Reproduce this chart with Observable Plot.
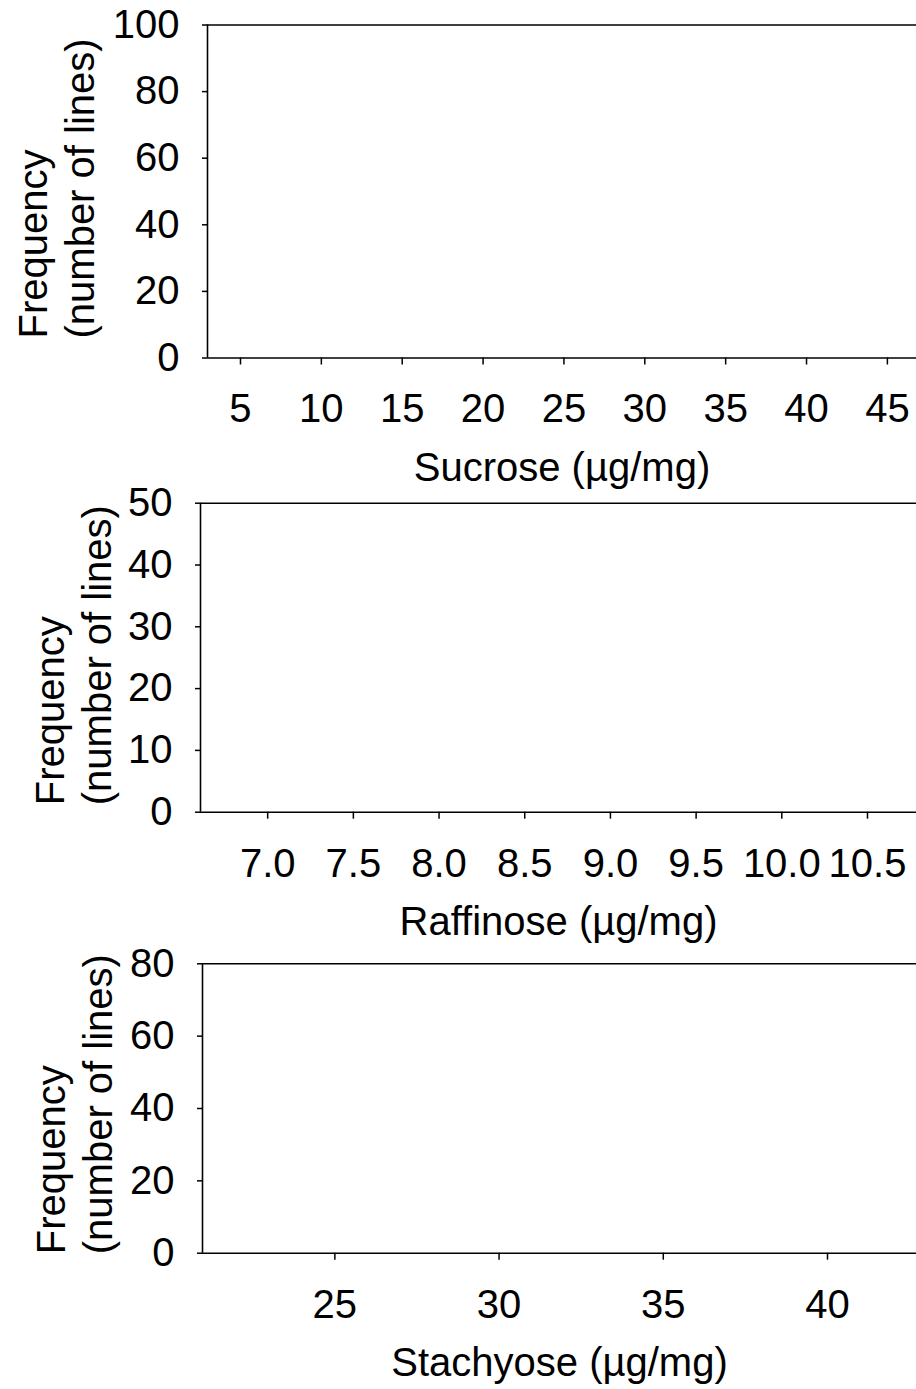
<!DOCTYPE html>
<html>
<head>
<meta charset="utf-8">
<script src="https://cdn.jsdelivr.net/npm/d3@7"></script>
<script src="https://cdn.jsdelivr.net/npm/@observablehq/plot@0.6"></script>
<style>
  body { margin: 0; background: #fff; }
  #chart svg { display: block; }
</style>
</head>
<body>
<div id="chart"></div>
<script>
// ---- Data (the reference figure shows empty histogram panels: no bars) ----
const sucroseValues = [];      // frequency bins shown: none
const raffinoseValues = [];
const stachyoseValues = [];

const sucroseXTicks = [5, 10, 15, 20, 25, 30, 35, 40, 45];
const raffinoseXTicks = [7.0, 7.5, 8.0, 8.5, 9.0, 9.5, 10.0, 10.5];
const stachyoseXTicks = [25, 30, 35, 40];

const sucroseYTicks = [0, 20, 40, 60, 80, 100];
const raffinoseYTicks = [0, 10, 20, 30, 40, 50];
const stachyoseYTicks = [0, 20, 40, 60, 80];

const xTitles = ["Sucrose (µg/mg)", "Raffinose (µg/mg)", "Stachyose (µg/mg)"];
const yTitle = "Frequency\n(number of lines)";

// ---- Layout per panel ----
const W = 916;
const FS = 40;
const FONT = "'Liberation Sans', Arial, Helvetica, sans-serif";
const panels = [
  { data: sucroseValues, xTicks: sucroseXTicks, yTicks: sucroseYTicks, title: xTitles[0],
    xDomain: [2.96, 46.8], yDomain: [0, 100], fmt: d3.format("d"),
    height: 490, mt: 24.5, mb: 132.5, ml: 207, ydx: -194, ydy: -19.5 },
  { data: raffinoseValues, xTicks: raffinoseXTicks, yTicks: raffinoseYTicks, title: xTitles[1],
    xDomain: [6.608, 10.786], yDomain: [0, 50], fmt: d3.format(".1f"),
    height: 460, mt: 12.7, mb: 138.3, ml: 200, ydx: -170, ydy: -7 },
  { data: stachyoseValues, xTicks: stachyoseXTicks, yTicks: stachyoseYTicks, title: xTitles[2],
    xDomain: [20.97, 42.71], yDomain: [0, 80], fmt: d3.format("d"),
    height: 439, mt: 13.3, mb: 136.3, ml: 202, ydx: -171, ydy: 1 }
];

const root = document.getElementById("chart");
for (const p of panels) {
  const chart = Plot.plot({
    width: W,
    height: p.height,
    marginTop: p.mt,
    marginBottom: p.mb,
    marginLeft: p.ml,
    marginRight: 0,
    style: { fontFamily: FONT, fontSize: FS + "px", color: "#000", background: "#fff", overflow: "visible" },
    x: { domain: p.xDomain },
    y: { domain: p.yDomain },
    marks: [
      Plot.rectY(p.data, Plot.binX({ y: "count" }, { x: d => d, fill: "#000" })),
      Plot.ruleY([p.yDomain[1]], { stroke: "#000", strokeWidth: 1.6 }),
      Plot.ruleY([p.yDomain[0]], { stroke: "#000", strokeWidth: 1.6 }),
      Plot.ruleX([p.xDomain[0]], { stroke: "#000", strokeWidth: 1.6 }),
      Plot.axisX({ ticks: p.xTicks, tickFormat: p.fmt, tickSize: 7, tickPadding: 29,
                   strokeWidth: 1.5, label: null, fontSize: FS }),
      Plot.axisY({ ticks: p.yTicks, tickFormat: d3.format("d"), tickSize: 5, tickPadding: 23,
                   strokeWidth: 1.5, label: null, fontSize: FS }),
      Plot.text([p.title], { text: d => d, frameAnchor: "bottom", lineAnchor: "bottom",
                             dy: 122.5, fontSize: FS, fill: "#000" }),
      Plot.text([yTitle], { text: d => d, frameAnchor: "bottom-left", rotate: -90,
                            textAnchor: "start", lineAnchor: "top", lineHeight: 1.17,
                            dx: p.ydx, dy: p.ydy, fontSize: FS, fill: "#000" })
    ]
  });
  root.appendChild(chart);
}
</script>
</body>
</html>
